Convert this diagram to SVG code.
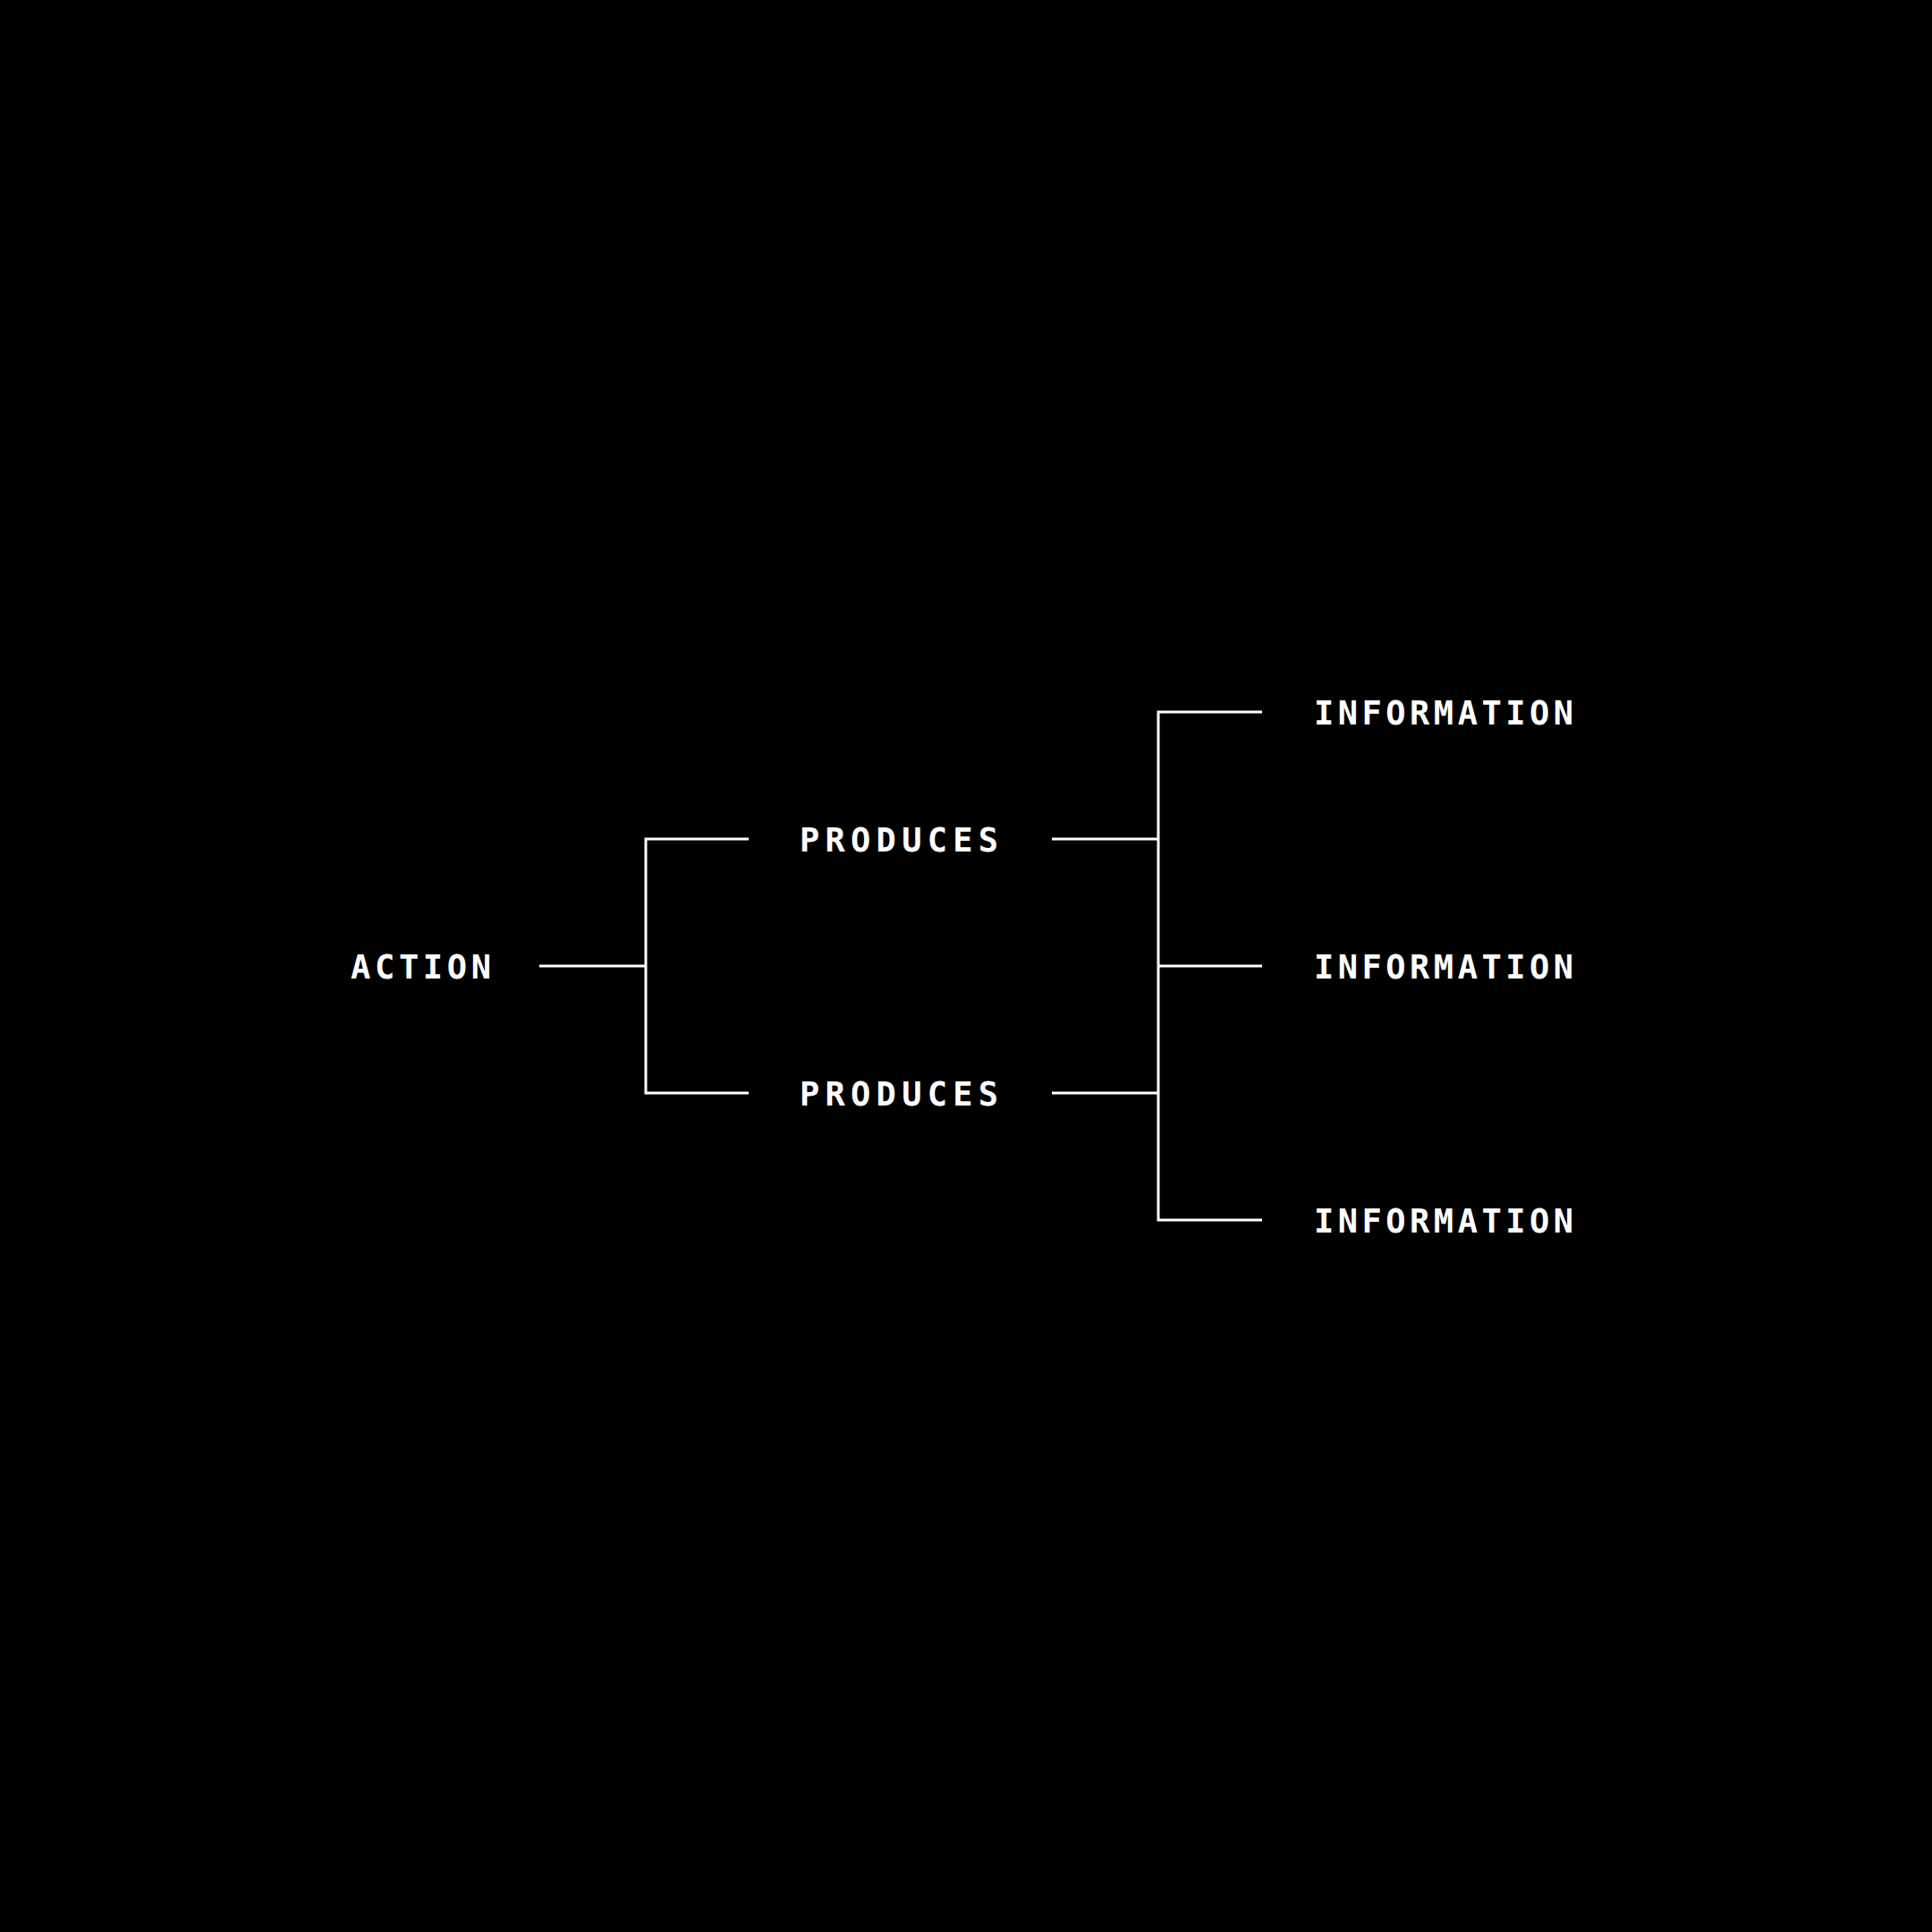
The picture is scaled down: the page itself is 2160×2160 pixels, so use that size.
<svg xmlns="http://www.w3.org/2000/svg" width="2160" height="2160" viewBox="0 0 2160 2160">
<style>
.bg{fill:#000}
.c{stroke:#fff;stroke-width:3;fill:none;stroke-linecap:butt;stroke-linejoin:miter}
.t{fill:#fff;font-family:"DejaVu Sans Mono","Liberation Mono",monospace;font-size:37px;font-weight:bold}
</style>
<rect class="bg" x="0" y="0" width="2160" height="2160"/>
<g id="connectors">
<path class="c" d="M603 1080H722"/>
<path class="c" d="M837 938H722V1222H837"/>
<path class="c" d="M1176 938H1295"/>
<path class="c" d="M1176 1222H1295"/>
<path class="c" d="M1411 796H1295V1364H1411"/>
<path class="c" d="M1295 1080H1411"/>
</g>
<g id="action"><text class="t" x="392" y="1094" textLength="157" lengthAdjust="spacing">ACTION</text></g>
<g id="produces1"><text class="t" x="894" y="952" textLength="222" lengthAdjust="spacing">PRODUCES</text></g>
<g id="produces2"><text class="t" x="894" y="1236" textLength="222" lengthAdjust="spacing">PRODUCES</text></g>
<g id="information1"><text class="t" x="1469" y="810" textLength="290" lengthAdjust="spacing">INFORMATION</text></g>
<g id="information2"><text class="t" x="1469" y="1094" textLength="290" lengthAdjust="spacing">INFORMATION</text></g>
<g id="information3"><text class="t" x="1469" y="1378" textLength="290" lengthAdjust="spacing">INFORMATION</text></g>
</svg>
